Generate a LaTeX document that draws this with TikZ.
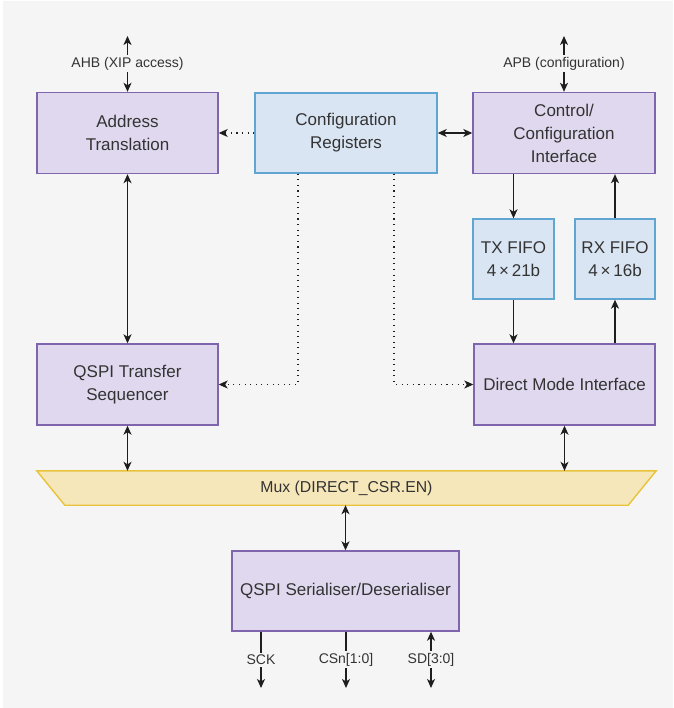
\documentclass[tikz,border=0pt]{standalone}
\usepackage{fontspec}
\setmainfont{Liberation Sans}
\usetikzlibrary{arrows.meta}
\definecolor{bgcol}{HTML}{F5F5F5}
\definecolor{txtcol}{HTML}{333333}
\definecolor{arrcol}{HTML}{1E1E1E}
\definecolor{purplefill}{HTML}{E0D8EE}
\definecolor{purpledraw}{HTML}{7F65AE}
\definecolor{bluefill}{HTML}{DAE5F3}
\definecolor{bluedraw}{HTML}{5FA6D3}
\definecolor{muxfill}{HTML}{F6E7BB}
\definecolor{muxdraw}{HTML}{E8C33A}

\begin{document}
\begin{tikzpicture}[x=1pt,y=-1pt,
  box/.style={draw, line width=1.4pt, align=center, inner sep=0pt, text=txtcol,
    font=\fontsize{17}{23}\selectfont},
  purplebox/.style={box, draw=purpledraw, fill=purplefill},
  bluebox/.style={box, draw=bluedraw, fill=bluefill},
  tip/.tip={Stealth[length=9pt,width=8pt,inset=2.5pt]},
  arr/.style={line width=1.3pt, draw=arrcol, -tip},
  arrboth/.style={line width=1.3pt, draw=arrcol, tip-tip},
  dotarr/.style={line width=1.1pt, draw=arrcol, dash pattern=on 1.1pt off 4.5pt, -tip},
  lbl/.style={fill=bgcol, text=txtcol, inner sep=2pt, font=\fontsize{14}{16}\selectfont}]
\useasboundingbox (0,0) rectangle (673,708);
\fill[bgcol] (3,1) rectangle (673,708);

% top row
\node[purplebox, minimum width=181, minimum height=81] (addr) at (127.5,133) {Address\\Translation};
\node[bluebox, minimum width=182, minimum height=80] (cfgreg) at (346,133) {Configuration\\Registers};
\node[purplebox, minimum width=182, minimum height=81] (ctrl) at (564,133) {Control/\\Configuration\\Interface};

% fifos
\node[bluebox, minimum width=81, minimum height=80] (txfifo) at (513.5,259) {TX FIFO\\4\,\texttimes\,21b};
\node[bluebox, minimum width=80, minimum height=80] (rxfifo) at (615,259) {RX FIFO\\4\,\texttimes\,16b};

% middle row
\node[purplebox, minimum width=181, minimum height=81] (seq) at (127.5,384.5) {QSPI Transfer\\Sequencer};
\node[purplebox, minimum width=181, minimum height=81] (direct) at (564.5,384.5) {Direct Mode Interface};

% mux
\node[minimum width=619, minimum height=34, inner sep=0pt] (mux) at (346.5,488) {};
\filldraw[draw=muxdraw, fill=muxfill, line width=1.4pt] (mux.north west) -- (mux.north east)
  -- ([xshift=-28pt]mux.south east) -- ([xshift=28pt]mux.south west) -- cycle;
\node[text=txtcol, font=\fontsize{15.8}{18}\selectfont] at (mux) {Mux (DIRECT\_CSR.EN)};

\node[purplebox, minimum width=227, minimum height=80] (serdes) at (345.5,591) {QSPI Serialiser/Deserialiser};

% external ends
\coordinate (ahbtop) at (127.5,36);
\coordinate (apbtop) at (564,36);
\coordinate (sckend) at (261,688);
\coordinate (csnend) at (346,688);
\coordinate (sdend) at (431,688);

\draw[arrboth] (addr.north) -- node[lbl] {AHB (XIP access)} (ahbtop);
\draw[arrboth] (ctrl.north) -- node[lbl] {APB (configuration)} (apbtop);

\draw[dotarr] (cfgreg.west) -- (addr.east);
\draw[arrboth] (cfgreg.east) -- (ctrl.west);
\draw[arrboth] (addr.south) -- (seq.north);

\draw[dotarr] ([xshift=-48pt]cfgreg.south) |- (seq.east);
\draw[dotarr] ([xshift=48pt]cfgreg.south) |- (direct.west);

\draw[arr] (txfifo.north |- ctrl.south) -- (txfifo.north);
\draw[arr] (rxfifo.north) -- (rxfifo.north |- ctrl.south);
\draw[arr] (txfifo.south) -- (txfifo.south |- direct.north);
\draw[arr] (rxfifo.south |- direct.north) -- (rxfifo.south);

\draw[arrboth] (seq.south) -- (seq.south |- mux.north);
\draw[arrboth] (direct.south) -- (direct.south |- mux.north);
\draw[arrboth] (mux.south -| serdes.north) -- (serdes.north);

\draw[arr] (sckend |- serdes.south) -- node[lbl] {SCK} (sckend);
\draw[arr] (csnend |- serdes.south) -- node[lbl] {CSn[1:0]} (csnend);
\draw[arrboth] (sdend |- serdes.south) -- node[lbl] {SD[3:0]} (sdend);
\end{tikzpicture}
\end{document}
